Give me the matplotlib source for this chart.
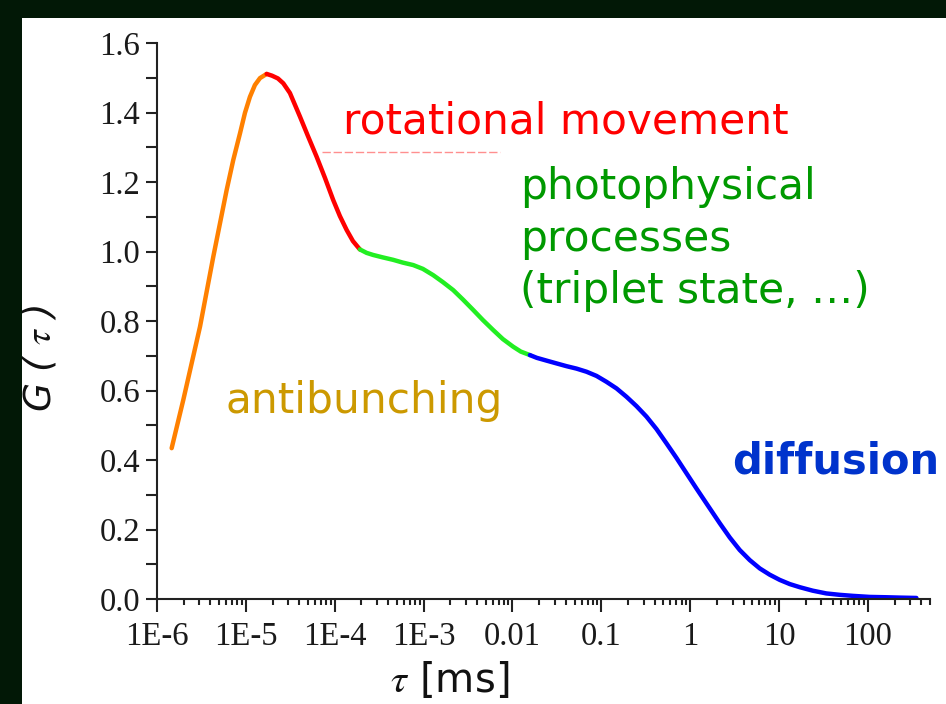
import matplotlib
matplotlib.use("Agg")
import matplotlib.pyplot as plt
from matplotlib.ticker import FixedLocator, FixedFormatter, LogLocator, MultipleLocator, NullFormatter
import matplotlib.patches as mpatches

# ---- data (tau in ms, G(tau)) ----
orange_tau = [1.462e-6, 1.977e-6, 3.05e-6, 4.30e-6, 6.08e-6, 7.21e-6, 8.59e-6, 9.77e-6,
              1.111e-5, 1.264e-5, 1.442e-5, 1.714e-5]
orange_g = [0.434, 0.573, 0.784, 0.985, 1.177, 1.263, 1.340, 1.399,
            1.445, 1.479, 1.499, 1.511]

red_tau = [1.714e-5, 1.968e-5, 2.296e-5, 2.637e-5, 3.133e-5, 4.065e-5, 5.00e-5, 6.25e-5,
           7.76e-5, 9.62e-5, 1.143e-4, 1.362e-4, 1.603e-4, 1.918e-4]
red_g = [1.511, 1.506, 1.498, 1.484, 1.456, 1.388, 1.332, 1.273,
         1.212, 1.148, 1.102, 1.062, 1.030, 1.006]

green_tau = [1.918e-4, 2.286e-4, 2.71e-4, 3.48e-4, 4.55e-4, 5.85e-4, 7.64e-4, 9.82e-4,
             1.282e-3, 1.648e-3, 2.153e-3, 2.767e-3, 3.61e-3, 4.64e-3, 6.07e-3, 7.80e-3,
             1.019e-2, 1.241e-2, 1.57e-2]
green_g = [1.006, 0.996, 0.990, 0.983, 0.976, 0.968, 0.961, 0.950,
           0.932, 0.912, 0.889, 0.862, 0.832, 0.803, 0.774, 0.748,
           0.726, 0.712, 0.702]

blue_tau = [1.57e-2, 1.879e-2, 2.42e-2, 3.13e-2, 4.06e-2, 5.26e-2, 6.82e-2, 8.83e-2,
            0.1143, 0.1483, 0.1919, 0.249, 0.322, 0.418, 0.541, 0.701, 0.908, 1.177,
            1.525, 2.153, 2.79, 3.61, 4.68, 6.07, 7.85, 10.18, 13.2, 17.1, 23.9, 34.1,
            48.2, 68.0, 104.7, 161.4, 228, 351.6]
blue_g = [0.702, 0.694, 0.686, 0.678, 0.670, 0.663, 0.654, 0.642,
          0.625, 0.606, 0.582, 0.555, 0.525, 0.489, 0.448, 0.406, 0.362, 0.318,
          0.275, 0.218, 0.177, 0.141, 0.112, 0.088, 0.070, 0.055, 0.043, 0.034, 0.024, 0.016,
          0.012, 0.009, 0.006, 0.005, 0.004, 0.003]

x_ticks = [1e-6, 1e-5, 1e-4, 1e-3, 1e-2, 1e-1, 1, 10, 100]
x_tick_labels = ["1E-6", "1E-5", "1E-4", "1E-3", "0.01", "0.1", "1", "10", "100"]
y_ticks = [0.0, 0.2, 0.4, 0.6, 0.8, 1.0, 1.2, 1.4, 1.6]
y_tick_labels = ["0.0", "0.2", "0.4", "0.6", "0.8", "1.0", "1.2", "1.4", "1.6"]

W, H = 946, 704
plt.rcParams["mathtext.fontset"] = "stix"
fig = plt.figure(figsize=(W / 100, H / 100), dpi=100)
fig.patch.set_facecolor("#021806")

# white panel
fig.patches.append(mpatches.Rectangle((22 / W, 0), 1 - 22 / W, 1 - 18 / H,
                                      transform=fig.transFigure, facecolor="white",
                                      edgecolor="none", zorder=-10))

ax = fig.add_axes([157 / W, 105 / H, (930 - 157) / W, (661 - 105) / H])
ax.set_zorder(5)
ax.set_facecolor("none")
ax.set_xscale("log")
ax.set_xlim(1e-6, 500)
ax.set_ylim(0, 1.6)

lw = 3.2
kw = dict(lw=lw, solid_capstyle="round", solid_joinstyle="round")
ax.plot(orange_tau, orange_g, color="#ff8000", **kw)
ax.plot(red_tau, red_g, color="#ff0000", **kw)
ax.plot(green_tau, green_g, color="#22ee22", **kw)
ax.plot(blue_tau, blue_g, color="#0000ff", **kw)

for s in ["top", "right"]:
    ax.spines[s].set_visible(False)
for s in ["left", "bottom"]:
    ax.spines[s].set_color("#222222")
    ax.spines[s].set_linewidth(1.5)

ax.xaxis.set_major_locator(FixedLocator(x_ticks))
ax.xaxis.set_major_formatter(FixedFormatter(x_tick_labels))
ax.xaxis.set_minor_locator(LogLocator(base=10, subs=range(2, 10), numticks=20))
ax.xaxis.set_minor_formatter(NullFormatter())
ax.yaxis.set_major_locator(FixedLocator(y_ticks))
ax.yaxis.set_major_formatter(FixedFormatter(y_tick_labels))
ax.yaxis.set_minor_locator(MultipleLocator(0.1))

ax.tick_params(axis="both", which="both", direction="out", color="#222222", width=1.5)
ax.tick_params(axis="x", which="major", length=9, pad=7)
ax.tick_params(axis="x", which="minor", length=4.5)
ax.tick_params(axis="y", which="both", length=8, pad=4)
for lab in ax.get_xticklabels() + ax.get_yticklabels():
    lab.set_fontfamily("Liberation Serif")
    lab.set_fontsize(23.5)
    lab.set_color("#1a1a1a")

def px(x, y):
    return x / W, 1 - y / H

fig.text(*px(450, 681), r"$\tau$ [ms]", fontsize=29, family="DejaVu Sans",
         ha="center", va="center", color="#111111")
fig.text(*px(40, 358), r"G ( $\tau$ )", fontsize=27, family="DejaVu Sans", style="italic",
         rotation=90, ha="center", va="center", color="#111111")

fs = 30.4
fig.text(*px(343, 133), "rotational movement", fontsize=fs, family="DejaVu Sans",
         color="#ff0000", va="baseline", ha="left")
fig.text(*px(520, 199), "photophysical", fontsize=fs, family="DejaVu Sans",
         color="#009900", va="baseline", ha="left")
fig.text(*px(520, 251), "processes", fontsize=fs, family="DejaVu Sans",
         color="#009900", va="baseline", ha="left")
fig.text(*px(520, 303), "(triplet state, \u2026)", fontsize=fs, family="DejaVu Sans",
         color="#009900", va="baseline", ha="left")
fig.text(*px(225, 413), "antibunching", fontsize=fs, family="DejaVu Sans",
         color="#cc9900", va="baseline", ha="left")
fig.text(*px(732, 473), "diffusion", fontsize=30, family="DejaVu Sans", weight="bold",
         color="#0033cc", va="baseline", ha="left")

# faint dashed underline artifact below "rotational movement"
fig.add_artist(plt.Line2D([322 / W, 500 / W], [1 - 152 / H, 1 - 152 / H],
                          transform=fig.transFigure, color="#ff6060", lw=1.0,
                          ls=(0, (6, 2)), alpha=0.7))

fig.savefig("out.png", dpi=100, facecolor=fig.get_facecolor())
